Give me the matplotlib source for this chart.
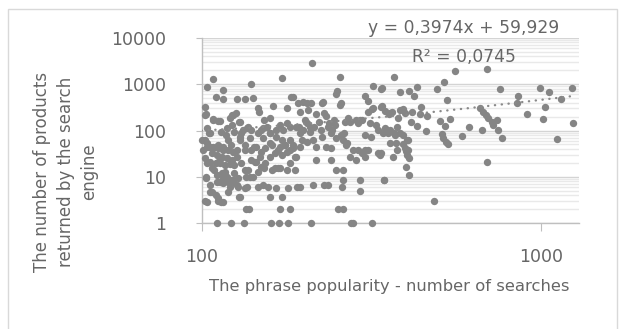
import numpy as np
import matplotlib
matplotlib.use("Agg")
import matplotlib.pyplot as plt
from matplotlib.patches import Rectangle
from matplotlib.ticker import LogLocator, FixedLocator, NullLocator, FixedFormatter

# ---------------- data ----------------
searches = [
    369, 339, 384, 409, 423, 432, 493, 518, 558, 528, 692, 758, 857, 993, 1056, 1231, 1145, 339, 347, 357,
    363, 380, 391, 418, 442, 440, 460, 414, 432, 457, 505, 540, 522, 661, 676, 689, 699, 715, 723, 740,
    748, 766, 669, 615, 586, 510, 516, 525, 533, 848, 908, 1027, 1016, 1112, 1245, 692, 484, 347, 355, 371,
    374, 391, 400, 402, 409, 400, 409, 345, 335, 402, 397, 370, 384,
    211, 256, 251, 249, 258, 255, 320, 338, 304, 309, 318, 338, 186, 192, 204, 210, 227, 195, 206, 217,
    230, 233, 222, 237, 247, 264, 270, 292, 204, 190, 199, 208, 214, 225, 227, 241, 249, 257, 261, 267,
    204, 213, 218, 233, 241, 195, 289, 302, 302, 316, 331, 338, 289, 313, 327, 350,
    274, 280, 286, 296, 303, 310, 331, 376, 367, 407, 359, 268, 228, 199, 359, 397, 384, 320, 310, 296,
    286, 274, 245, 202, 209, 236, 242, 262, 343, 359, 376, 393, 407, 186, 188, 191, 195,
    190, 218, 241, 249, 261, 213, 230, 235, 260, 261, 292, 292, 344, 252, 261, 210, 276, 280, 318,
    108, 104, 116, 140, 172, 110, 116, 127, 134, 142, 147, 148, 162, 179, 184, 102, 103, 108, 112, 121,
    124, 126, 130, 137, 153, 159, 170, 178, 104, 106, 102, 104, 101, 114, 118, 120, 125, 130, 132, 139,
    143, 147, 152, 159, 166, 172, 176, 182, 108, 112, 116, 122, 127, 134, 150, 159, 168, 178,
    102, 107, 103, 107, 102, 112, 114, 110, 111, 122, 133, 160, 169, 180, 135, 138, 170, 182, 104, 109,
    112, 114, 113, 116, 117, 120, 121, 124, 125, 127, 129, 134, 135, 137, 142, 147, 152, 157, 159, 166,
    172, 180, 140, 145, 153, 164, 170, 147,
    102, 108, 113, 123, 129, 123, 119, 105, 100, 104, 106, 108, 112, 116, 120, 124, 107, 111, 115, 119,
    123, 127, 106, 110, 113, 117, 121, 125, 131, 103, 111, 115, 119, 121, 124, 116, 111, 128, 134, 136,
    139, 128, 120, 106, 112, 104, 116, 130, 131, 136, 140, 130, 134, 140, 145, 149, 144, 154, 159, 165,
    170, 172, 176, 182, 186, 188, 182, 178, 168, 161, 150, 174, 182, 193, 195, 197, 156, 150, 159, 166,
    152, 161, 154, 106, 117,
]
products = [
    1402, 812, 686, 721, 554, 853, 773, 1093, 1915, 454, 2115, 795, 554, 812, 666, 812, 470, 337, 267, 227,
    254, 183, 286, 254, 316, 227, 208, 155, 125, 99, 163, 174, 125, 301, 254, 216, 183, 155, 131, 168,
    103, 68, 103, 121, 77, 83, 68, 57, 51, 386, 223, 316, 174, 65, 143, 21, 3, 111, 87, 80,
    55, 50, 37, 30, 25, 16, 11, 8.6, 30, 62, 41, 90, 90,
    2807, 1402, 721, 612, 386, 349, 924, 784, 554, 439, 286, 326, 535, 386, 386, 386, 386, 254, 277, 227,
    242, 206, 155, 143, 131, 155, 183, 168, 143, 121, 103, 94, 117, 103, 73, 87, 68, 80, 62, 49,
    57, 62, 45, 45, 41, 45, 38, 38, 80, 73, 103, 32, 143, 143, 131, 103,
    27, 38, 23, 32, 27, 38, 32, 38, 27, 38, 53, 53, 417, 417, 234, 234, 277, 301, 254, 168,
    168, 155, 168, 168, 121, 121, 103, 87, 87, 103, 121, 80, 62, 49, 14.1, 6.1, 6.1,
    27, 23, 23, 14.1, 14.1, 6.7, 6.7, 6.7, 6.0, 8.6, 8.6, 5.0, 8.6, 2, 2, 1, 1, 1, 1,
    1268, 853, 746, 991, 1334, 519, 470, 485, 470, 494, 301, 254, 337, 301, 519, 326, 227, 174, 160, 183,
    216, 242, 155, 117, 168, 183, 131, 143, 111, 87, 62, 45, 38, 94, 80, 62, 94, 73, 103, 68,
    45, 87, 111, 87, 103, 62, 49, 38, 45, 41, 38, 49, 38, 38, 35, 53, 38, 35,
    25, 15.3, 9.3, 4.8, 3.0, 3.0, 2.9, 4.1, 1, 1, 1, 1, 1, 1, 2, 2, 2, 2, 19.6, 14.1,
    21.3, 25, 7.9, 9.3, 11, 7.9, 6.1, 8.6, 12, 6.7, 3.7, 5.7, 10.1, 14.1, 10.1, 6.1, 6.7, 6.1, 3.7, 5.7,
    3.7, 5.7, 23, 21.3, 15.3, 15.3, 15.3, 12.9,
    216, 168, 163, 216, 155, 131, 111, 87, 62, 53, 45, 41, 49, 45, 38, 35, 32, 30, 27, 25,
    23, 27, 21, 20, 20, 18, 19, 18, 20, 10.1, 11, 12, 10.1, 8.6, 7.9, 7.3, 7.9, 9.3, 14.1, 6.1,
    10.1, 6.1, 4.8, 4.8, 3.5, 2.9, 2.9, 3.7, 87, 111, 103, 62, 49, 38, 45, 27, 21, 20, 27, 32,
    45, 30, 49, 62, 41, 27, 20, 14.1, 15.3, 14.1, 16.6, 103, 121, 121, 87, 62, 121, 103, 87, 73,
    68, 49, 41, 6.7, 12.9,
]
trend_slope = 0.3974
trend_intercept = 59.929
eq_text = "y = 0,3974x + 59,929"
r2_text = "R\u00b2 = 0,0745"
y_ticks = [1, 10, 100, 1000, 10000]
y_tick_labels = ["1", "10", "100", "1000", "10000"]
x_ticks = [100, 1000]
x_tick_labels = ["100", "1000"]
x_title = "The phrase popularity - number of searches"
y_title = "The number of products\nreturned by the search\nengine"

n = min(len(searches), len(products))
xs = np.array(searches[:n], dtype=float)
ys = np.array(products[:n], dtype=float)

# ---------------- figure ----------------
plt.rcParams['font.family'] = ['DejaVu Sans']
W, H = 626, 329
fig = plt.figure(figsize=(W / 100, H / 100), dpi=100)
fig.patch.set_facecolor('white')

# chart border
fig.patches.append(Rectangle((8 / W, -0.05), (617 - 8) / W, 1.05 - 9 / H,
                             transform=fig.transFigure, fill=False,
                             edgecolor='#d9d9d9', lw=1.0))

left, right = 201.6 / W, 579.3 / W
bottom, top = 1 - 223.3 / H, 1 - 37.7 / H
ax = fig.add_axes([left, bottom, right - left, top - bottom])
ax.set_xscale('log')
ax.set_yscale('log')
ax.set_xlim(100, 1297)
ax.set_ylim(1, 10000)

txt = '#666666'
ax.yaxis.set_major_locator(FixedLocator(y_ticks))
ax.yaxis.set_major_formatter(FixedFormatter(y_tick_labels))
ax.yaxis.set_minor_locator(LogLocator(base=10, subs=np.arange(2, 10)))
ax.xaxis.set_major_locator(FixedLocator(x_ticks))
ax.xaxis.set_major_formatter(FixedFormatter(x_tick_labels))
ax.xaxis.set_minor_locator(NullLocator())

ax.yaxis.grid(True, which='major', color='#d4d4d4', lw=1.0)
ax.yaxis.grid(True, which='minor', color='#e9e9e9', lw=1.0)
ax.set_axisbelow(True)

for s in ['top', 'right']:
    ax.spines[s].set_visible(False)
for s in ['left', 'bottom']:
    ax.spines[s].set_color('#bfbfbf')
    ax.spines[s].set_linewidth(1.0)

ax.tick_params(axis='y', which='major', length=4.5, color='#bfbfbf',
               labelcolor=txt, labelsize=12.5, pad=21)
ax.tick_params(axis='y', which='minor', length=0)
ax.tick_params(axis='x', which='major', length=5.5, color='#bfbfbf',
               labelcolor=txt, labelsize=12.5, pad=12)

ax.scatter(xs, ys, s=28, color='#858585', linewidths=0, zorder=3, clip_on=False)

xt = np.geomspace(xs.min(), xs.max(), 300)
ax.plot(xt, trend_slope * xt + trend_intercept, color='#8a8a8a', lw=1.7,
        linestyle=(0, (0.1, 2.8)), dash_capstyle='round', zorder=4)

fig.text(464 / W, 1 - 28 / H, eq_text, ha='center', va='center', fontsize=12.3, color=txt)
fig.text(464 / W, 1 - 57 / H, r2_text, ha='center', va='center', fontsize=12.3, color=txt)
fig.text(389 / W, 1 - 287 / H, x_title, ha='center', va='center', fontsize=11.8, color=txt)
fig.text(66 / W, 1 - 172 / H, y_title, ha='center', va='center', rotation=90,
         fontsize=12, color=txt, linespacing=1.4, multialignment='center')

fig.savefig('out.png', dpi=100)
